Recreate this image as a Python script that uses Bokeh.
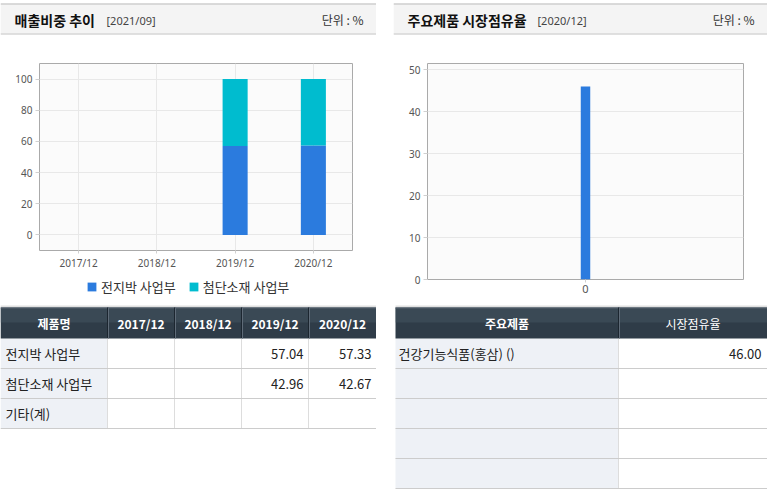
import math
from bokeh.plotting import figure
from bokeh.layouts import row, column
from bokeh.models import (ColumnDataSource, FactorRange, Range1d, Legend, LegendItem,
                          Spacer, FixedTicker)
from bokeh.core.properties import value
from bokeh.embed import file_html
from bokeh.resources import INLINE

# ---------------- data ----------------
categories = ["2017/12", "2018/12", "2019/12", "2020/12"]
series_names = ["전지박 사업부", "첨단소재 사업부"]
jeonjibak = [None, None, 57.04, 57.33]
cheomdan = [None, None, 42.96, 42.67]
etc_total = [None, None, None, None]
table_row_names = ["전지박 사업부", "첨단소재 사업부", "기타(계)"]

share_products = ["건강기능식품(홍삼) ()"]
share_values = [46.00]
share_x_labels = ["0"]

left_title, left_date = "매출비중 추이", "[2021/09]"
right_title, right_date = "주요제품 시장점유율", "[2020/12]"
unit_text = "단위 : %"

# ---------------- style ----------------
FONT = value("Noto Sans CJK KR")
BLUE = "#2b7bde"
CYAN = "#00bccf"
GRID = "#e8e8e8"

def nn(v):
    return float("nan") if v is None else v

def fmt(v):
    return "" if v is None else f"{v:.2f}"

def deco_fig(w, h):
    p = figure(width=w, height=h, x_range=Range1d(0, w), y_range=Range1d(h, 0),
               output_backend="svg", toolbar_location=None, x_axis_type=None, y_axis_type=None,
               min_border=0, min_border_left=0, min_border_right=0, min_border_top=0,
               min_border_bottom=0, outline_line_color=None, frame_align=False,
               background_fill_color="white", border_fill_color="white")
    p.grid.visible = False
    return p

def header(w, title, date, date_x):
    p = deco_fig(w, 40)
    p.quad(left=[0], right=[w], top=[3], bottom=[34], fill_color="#f4f4f4", line_color=None)
    p.segment(x0=[0, 0], y0=[3.5, 33.5], x1=[w, w], y1=[3.5, 33.5],
              line_color=["#bcbcbc", "#c8c8c8"], line_width=1.2)
    p.text(x=[14], y=[19], text=[title], text_font=FONT, text_font_style="bold",
           text_font_size="14px", text_color="#111111", text_baseline="middle")
    p.text(x=[date_x], y=[19.5], text=[date], text_font=value("Noto Sans"),
           text_font_size="11px", text_color="#444444", text_baseline="middle")
    p.text(x=[w - 13], y=[19], text=[unit_text], text_font=FONT,
           text_font_size="12px", text_color="#333333", text_baseline="middle", text_align="right")
    return p

def table_header(p, x0, col_edges, labels, bolds):
    top, bot = 2, 33
    p.segment(x0=[x0], y0=[0.5], x1=[col_edges[-1]], y1=[0.5], line_color="#d6d6d6", line_width=1.5)
    p.quad(left=[x0], right=[col_edges[-1]], top=[top], bottom=[bot],
           fill_color="#2f3c48", line_color=None)
    p.quad(left=[x0], right=[col_edges[-1]], top=[top], bottom=[17],
           fill_color="#4a5866", fill_alpha=0.45, line_color=None)
    p.segment(x0=[x0], y0=[top + 0.5], x1=[col_edges[-1]], y1=[top + 0.5],
              line_color="#56626e", line_width=1)
    inner = col_edges[1:-1]
    if inner:
        p.segment(x0=inner, y0=[top] * len(inner), x1=inner, y1=[bot] * len(inner),
                  line_color="#1c2630", line_width=1)
        p.segment(x0=[e + 1 for e in inner], y0=[top] * len(inner), x1=[e + 1 for e in inner],
                  y1=[bot] * len(inner), line_color="#5f6b78", line_width=1)
    cx = [(a + b) / 2 for a, b in zip(col_edges[:-1], col_edges[1:])]
    for x, lab, b in zip(cx, labels, bolds):
        p.text(x=[x], y=[(top + bot) / 2], text=[lab], text_font=FONT,
               text_font_style="bold" if b else "normal", text_font_size="12px",
               text_color="white", text_align="center", text_baseline="middle")

def style_axes(p):
    for ax in (p.xaxis[0], p.yaxis[0]):
        ax.axis_line_color = None
        ax.major_tick_in = 0
        ax.major_tick_out = 4
        ax.major_tick_line_color = "#d0d0d0"
        ax.minor_tick_line_color = None
        ax.major_label_text_font = "Noto Sans"
        ax.major_label_text_font_size = "10px"
        ax.major_label_text_color = "#555555"
        ax.major_label_standoff = 3
    p.xaxis[0].major_tick_out = 3
    p.xaxis[0].major_label_standoff = 2
    p.grid.grid_line_color = GRID

# ---------------- left chart ----------------
src = ColumnDataSource(dict(cat=categories, a=[nn(v) for v in jeonjibak],
                            b=[nn(v) for v in cheomdan]))
pl = figure(width=376, height=232, x_range=FactorRange(factors=categories),
            y_range=Range1d(-10, 110), output_backend="svg", toolbar_location=None,
            min_border_left=39, min_border_right=24, min_border_top=23, min_border_bottom=21,
            background_fill_color="#fbfbfb", border_fill_color="white",
            outline_line_color="#aaaaaa", frame_align=False)
rs = pl.vbar_stack(["a", "b"], x="cat", width=0.32, color=[BLUE, CYAN], line_color=None, source=src)
pl.yaxis.ticker = FixedTicker(ticks=[0, 20, 40, 60, 80, 100])
style_axes(pl)

# legend strip below the left chart (sample glyphs sit outside its visible range)
lf = figure(width=376, height=33, x_range=Range1d(0, 1), y_range=Range1d(0, 1),
            output_backend="svg", toolbar_location=None, x_axis_type=None, y_axis_type=None,
            min_border=0, min_border_left=0, min_border_right=0, min_border_top=0,
            min_border_bottom=0, outline_line_color=None, frame_align=False,
            background_fill_color="white", border_fill_color="white")
lf.grid.visible = False
lg_src = ColumnDataSource(dict(x=[-10.0], top=[-10.0]))
lr = [lf.vbar(x="x", top="top", bottom=-11.0, width=0.1, color=c, line_color=None, source=lg_src)
      for c in (BLUE, CYAN)]
legend = Legend(items=[LegendItem(label=series_names[0], renderers=[lr[0]]),
                       LegendItem(label=series_names[1], renderers=[lr[1]])],
                orientation="horizontal", location=(86, 9),
                label_text_font="Noto Sans CJK KR", label_text_font_size="13px",
                label_text_color="#333333", glyph_width=11, glyph_height=11,
                label_standoff=4, spacing=12, padding=0, margin=0,
                border_line_color=None, background_fill_alpha=0)
lf.add_layout(legend, "center")

# ---------------- right chart ----------------
src2 = ColumnDataSource(dict(cat=share_x_labels, v=share_values))
pr = figure(width=374, height=265, x_range=FactorRange(factors=share_x_labels),
            y_range=Range1d(0, 51.5), output_backend="svg", toolbar_location=None,
            min_border_left=34, min_border_right=24, min_border_top=23, min_border_bottom=26,
            background_fill_color="#fbfbfb", border_fill_color="white",
            outline_line_color="#aaaaaa", frame_align=False)
pr.vbar(x="cat", top="v", width=0.03, color=BLUE, line_color=None, source=src2)
pr.yaxis.ticker = FixedTicker(ticks=[0, 10, 20, 30, 40, 50])
style_axes(pr)
pr.xaxis.major_label_text_font_size = "11px"

# ---------------- left table ----------------
tl = deco_fig(376, 191)
lcols = [0, 107, 174, 241, 308, 376]
row_edges = [33, 63, 93, 123]
tl.quad(left=[0], right=[lcols[1]], top=[33], bottom=[123], fill_color="#eef1f6", line_color=None)
table_header(tl, 0, lcols, ["제품명"] + categories, [True] * 5)
tl.segment(x0=lcols[1:-1], y0=[33] * 4, x1=lcols[1:-1], y1=[123] * 4, line_color="#dddddd", line_width=1)
tl.segment(x0=[0] * 3, y0=row_edges[1:], x1=[376] * 3, y1=row_edges[1:], line_color="#cccccc", line_width=1.2)
table_vals = [jeonjibak, cheomdan, etc_total]
for i, (name, vals) in enumerate(zip(table_row_names, table_vals)):
    yc = (row_edges[i] + row_edges[i + 1]) / 2
    tl.text(x=[5], y=[yc], text=[name], text_font=FONT, text_font_size="13px",
            text_color="#222222", text_baseline="middle")
    tl.text(x=[e - 5 for e in lcols[2:]], y=[yc] * 4, text=[fmt(v) for v in vals], text_font=FONT,
            text_font_size="13px", text_color="#222222", text_baseline="middle", text_align="right")

# ---------------- right table ----------------
tr = deco_fig(374, 191)
rcols = [2, 225, 374]
rrows = [33, 63, 93, 123, 153, 183]
tr.quad(left=[2], right=[225], top=[33], bottom=[183], fill_color="#eef1f6", line_color=None)
table_header(tr, 2, rcols, ["주요제품", "시장점유율"], [True, False])
tr.segment(x0=[225], y0=[33], x1=[225], y1=[183], line_color="#dddddd", line_width=1)
tr.segment(x0=[2] * 5, y0=rrows[1:], x1=[374] * 5, y1=rrows[1:], line_color="#cccccc", line_width=1.2)
for i, (name, v) in enumerate(zip(share_products, share_values)):
    yc = (rrows[i] + rrows[i + 1]) / 2
    tr.text(x=[5], y=[yc], text=[name], text_font=FONT, text_font_size="13px",
            text_color="#222222", text_baseline="middle")
    tr.text(x=[368], y=[yc], text=[fmt(v)], text_font=FONT, text_font_size="13px",
            text_color="#222222", text_baseline="middle", text_align="right")

left_col = column(header(376, left_title, left_date, 106), pl, lf, tl, spacing=0)
right_col = column(header(374, right_title, right_date, 144), pr, tr, spacing=0)
layout = row(left_col, Spacer(width=17, height=496), right_col, spacing=0)

open("out.html", "w").write(file_html(layout, INLINE))
